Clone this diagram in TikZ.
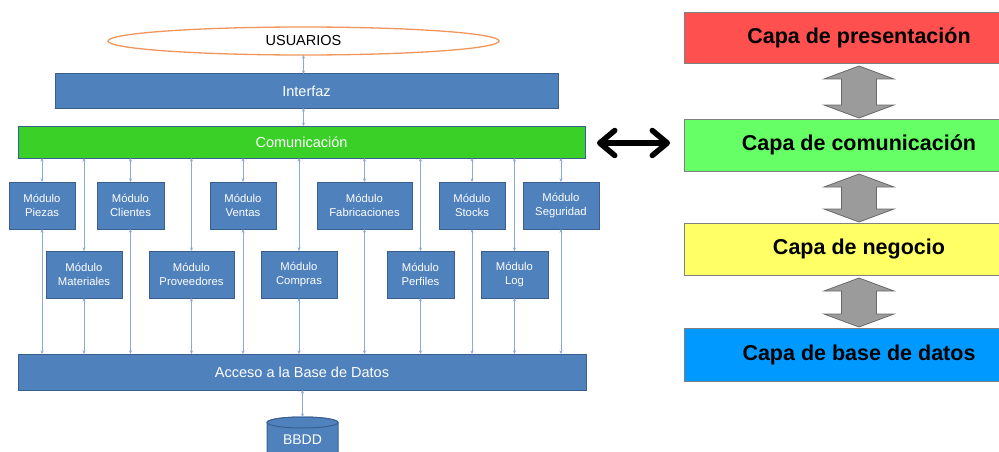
\documentclass[tikz,border=0pt]{standalone}
\usepackage{fontspec}
\setmainfont{Liberation Sans}
\usetikzlibrary{arrows.meta,calc,shapes.geometric}

\definecolor{boxblue}{RGB}{79,129,189}
\definecolor{boxedge}{RGB}{58,95,143}
\definecolor{commgreen}{RGB}{58,208,40}
\definecolor{connblue}{RGB}{140,170,215}
\definecolor{userorange}{RGB}{240,150,90}
\definecolor{capared}{RGB}{255,80,80}
\definecolor{capagreen}{RGB}{102,255,102}
\definecolor{capayellow}{RGB}{255,255,102}
\definecolor{capablue}{RGB}{0,153,255}
\definecolor{capaedge}{RGB}{128,128,128}
\definecolor{flechagris}{RGB}{155,155,155}
\definecolor{flechaedge}{RGB}{105,105,105}

\tikzset{barb/.tip={Straight Barb[length=15pt,width=25pt,line cap=round,line join=round]}}

% grey double block arrow between two stacked layers
\newcommand\capaflecha[2]{%
  \draw[flecha] ($(#1.south)+(0,3)$) -- ++(35,13) -- ++(-17.5,0)
    -- ($(#2.north)+(17.5,-14)$) -- ++(17.5,0) -- ($(#2.north)+(0,-1)$)
    -- ++(-35,-13) -- ++(17.5,0) -- ($(#1.south)+(-17.5,16)$) -- ++(-17.5,0) -- cycle;}

\begin{document}
\begin{tikzpicture}[x=1pt,y=-1pt,
  bluebox/.style={draw=boxedge, fill=boxblue, line width=1pt, text=white,
    inner sep=0pt, outer sep=0pt},
  barra/.style={bluebox, font=\fontsize{14.5}{17}\selectfont},
  modulo/.style={bluebox, minimum height=47pt, align=center,
    font=\fontsize{11.3}{14}\selectfont},
  conn/.style={draw=connblue, line width=0.8pt,
    {Stealth[length=3.5pt,width=3pt]}-{Stealth[length=3.5pt,width=3pt]}},
  capa/.style={draw=capaedge, line width=0.8pt, minimum width=350pt,
    inner sep=0pt, outer sep=0pt, font=\fontsize{21.5}{24}\selectfont\bfseries},
  flecha/.style={draw=flechaedge, fill=flechagris, line width=0.8pt},
  cilindro/.style={draw=boxedge, fill=boxblue, line width=1pt},
]
\useasboundingbox (0,0) rectangle (999,452);

% users, interface and communication bars
\node[ellipse, draw=userorange, line width=1.3pt, fill=white, minimum width=391pt,
  minimum height=28pt, inner sep=0pt, outer sep=0pt,
  font=\fontsize{14.5}{17}\selectfont] (usuarios) at (303.5,41) {USUARIOS};
\node[barra, minimum width=503pt, minimum height=34pt] (interfaz) at (306.5,91) {Interfaz};
\node[barra, fill=commgreen, minimum width=567pt, minimum height=32pt]
  (comunicacion) at (301.5,142) {Comunicación};
\node[barra, minimum width=568pt, minimum height=36pt] (acceso) at (302,372)
  {Acceso a la Base de Datos};

\draw[conn] (usuarios.south) -- (usuarios.south |- interfaz.north);
\draw[conn] (usuarios.south |- interfaz.south) -- (usuarios.south |- comunicacion.north);

% upper row of modules
\node[modulo, minimum width=66pt] (piezas) at (42,205.5) {Módulo\\Piezas};
\node[modulo, minimum width=67pt] (clientes) at (130.5,205.5) {Módulo\\Clientes};
\node[modulo, minimum width=66pt] (ventas) at (243,205.5) {Módulo\\Ventas};
\node[modulo, minimum width=95pt] (fabricaciones) at (364.5,205.5) {Módulo\\Fabricaciones};
\node[modulo, minimum width=66pt] (stocks) at (472,205.5) {Módulo\\Stocks};
\node[modulo, minimum width=76pt] (seguridad) at (561,205.5) {Módulo\\Seguridad};

% lower row of modules
\node[modulo, minimum width=76pt] (materiales) at (84,274.5) {Módulo\\Materiales};
\node[modulo, minimum width=85pt] (proveedores) at (191.5,274.5) {Módulo\\Proveedores};
\node[modulo, minimum width=76pt] (compras) at (299,274.5) {Módulo\\Compras};
\node[modulo, minimum width=67pt] (perfiles) at (420.5,274.5) {Módulo\\Perfiles};
\node[modulo, minimum width=67pt] (log) at (514.5,274.5) {Módulo\\Log};

\foreach \m in {piezas,clientes,ventas,fabricaciones,stocks,seguridad,
                materiales,proveedores,compras,perfiles,log}{
  \draw[conn] (\m.north |- comunicacion.south) -- (\m.north);
  \draw[conn] (\m.south) -- (\m.south |- acceso.north);
}

\begin{scope}
\clip (0,0) rectangle (999,452);
% database cylinder
\coordinate (bbddtop) at (302.5,417);
\draw[cilindro] (267,422.5) -- (267,460) -- (338,460) -- (338,422.5)
  arc[start angle=0, end angle=-180, x radius=35.5, y radius=5.5];
\draw[cilindro] (302.5,422.5) ellipse[x radius=35.5, y radius=5.5];
\node[text=white, font=\fontsize{14}{16}\selectfont, inner sep=0pt] (bbdd)
  at (302.5,440) {BBDD};

% layer stack
\node[capa, fill=capared, minimum height=51pt] (pres) at (859,37.5) {Capa de presentación};
\node[capa, fill=capagreen, minimum height=52pt] (comm) at (859,145) {Capa de comunicación};
\node[capa, fill=capayellow, minimum height=52pt] (neg) at (859,249) {Capa de negocio};
\node[capa, fill=capablue, minimum height=53pt] (bd) at (859,354.5) {Capa de base de datos};
\end{scope}

\draw[conn] (acceso.south -| bbddtop) -- (bbddtop);

\capaflecha{pres}{comm}
\capaflecha{comm}{neg}
\capaflecha{neg}{bd}

% link between the communication bar and its layer
\draw[line width=5.5pt, line cap=round, barb-barb,
  shorten <=12pt, shorten >=14pt]
  ([yshift=-1pt]comunicacion.east) -- ([yshift=-1pt]comunicacion.east -| comm.west);
\end{tikzpicture}
\end{document}
